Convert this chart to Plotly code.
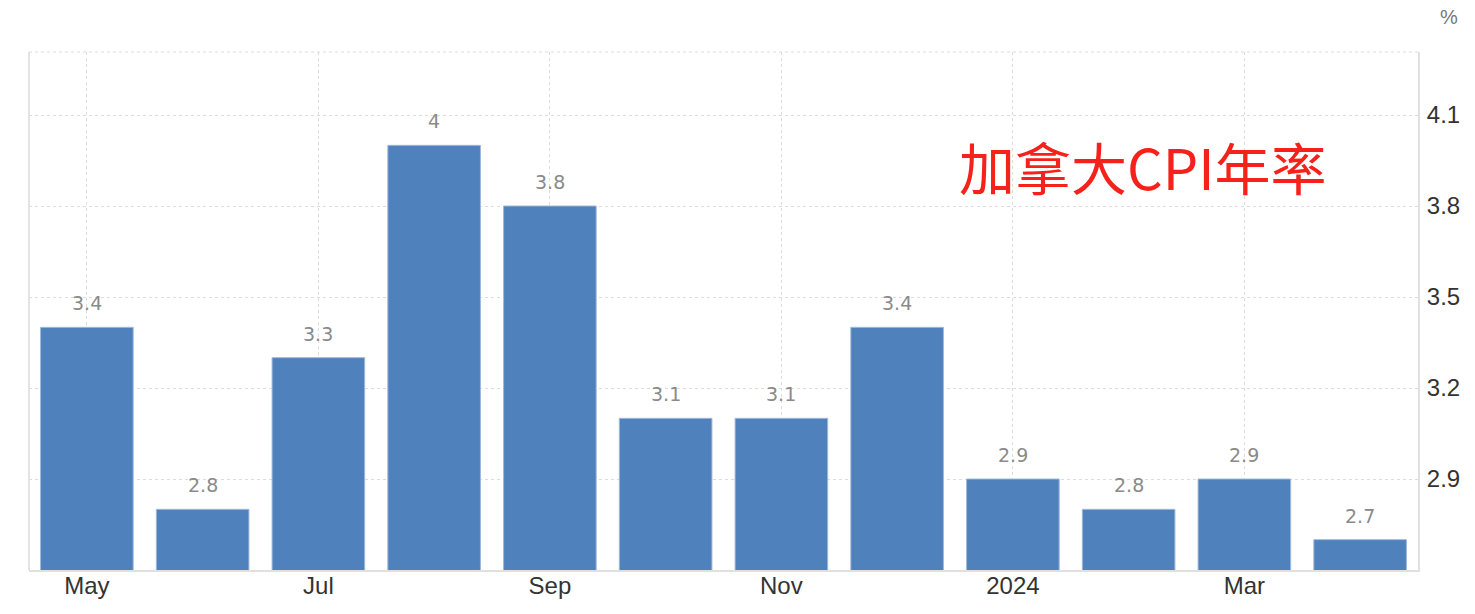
#!/usr/bin/env python3
"""Canada CPI YoY bar chart."""

import plotly.graph_objects as go

months = ['May 2023', 'Jun 2023', 'Jul 2023', 'Aug 2023', 'Sep 2023', 'Oct 2023',
          'Nov 2023', 'Dec 2023', 'Jan 2024', 'Feb 2024', 'Mar 2024', 'Apr 2024']
cpi_yoy = [3.4, 2.8, 3.3, 4.0, 3.8, 3.1, 3.1, 3.4, 2.9, 2.8, 2.9, 2.7]
tick_months = ['May 2023', 'Jul 2023', 'Sep 2023', 'Nov 2023', 'Jan 2024', 'Mar 2024']
tick_text = ['May', 'Jul', 'Sep', 'Nov', '2024', 'Mar']
y_ticks = [2.9, 3.2, 3.5, 3.8, 4.1]
title_text = '加拿大CPI年率'

BAR_COLOR = '#4f81bd'
GRID = '#dcdcdc'


def main():
    fig = go.Figure()
    fig.add_trace(go.Bar(
        x=months,
        y=cpi_yoy,
        marker=dict(color=BAR_COLOR, line=dict(color='#9fb8d9', width=1)),
        hoverinfo='x+y',
    ))

    # value labels above bars
    for m, v in zip(months, cpi_yoy):
        fig.add_annotation(
            x=m, y=v, text=f'{v:g}', showarrow=False,
            yanchor='bottom', yshift=11,
            font=dict(family='DejaVu Sans', size=19, color='#8a8a8a'),
        )

    fig.add_annotation(
        x=0.802, y=0.78, xref='paper', yref='paper', text=title_text,
        showarrow=False, xanchor='center', yanchor='middle',
        font=dict(family='Noto Sans CJK SC', size=56, color='#f5221b'),
    )
    fig.add_annotation(
        x=1.0, y=1.0, xref='paper', yref='paper', text='%',
        showarrow=False, xanchor='left', yanchor='bottom', xshift=20, yshift=22,
        font=dict(family='Liberation Sans', size=20, color='#777777'),
    )

    # dotted top border
    fig.add_shape(type='line', xref='paper', yref='paper', x0=0, x1=1, y0=1, y1=1,
                  line=dict(color=GRID, width=1, dash='dot'))
    # left border
    fig.add_shape(type='line', xref='paper', yref='paper', x0=0, x1=0, y0=0, y1=1,
                  line=dict(color='#e3e3e3', width=2))

    fig.update_layout(
        width=1475, height=614,
        margin=dict(l=29, r=57, t=52, b=44),
        plot_bgcolor='white', paper_bgcolor='white',
        showlegend=False,
        bargap=0.2,
        font=dict(family='Liberation Sans', color='#333333'),
    )
    fig.update_xaxes(
        type='category', categoryorder='array', categoryarray=months,
        range=[-0.5, 11.5], automargin=False,
        tickmode='array', tickvals=tick_months, ticktext=tick_text,
        tickfont=dict(size=24, color='#333333'),
        showgrid=True, gridcolor=GRID, griddash='dot', gridwidth=1,
        showline=True, linecolor='#e0e0e0', linewidth=2,
        ticks='', ticklabelstandoff=-7,
    )
    fig.update_yaxes(
        side='right', range=[2.6, 4.3077], automargin=False,
        tickmode='array', tickvals=y_ticks, ticktext=[f'{t:g}' for t in y_ticks],
        tickfont=dict(size=24, color='#333333'),
        showgrid=True, gridcolor=GRID, griddash='dot', gridwidth=1,
        showline=True, linecolor='#e0e0e0', linewidth=2,
        zeroline=False, ticks='', ticklabelstandoff=2,
    )

    fig.write_html('out.html', config={'displayModeBar': False},
                   post_script="document.body.style.margin='0px';")


if __name__ == '__main__':
    main()
